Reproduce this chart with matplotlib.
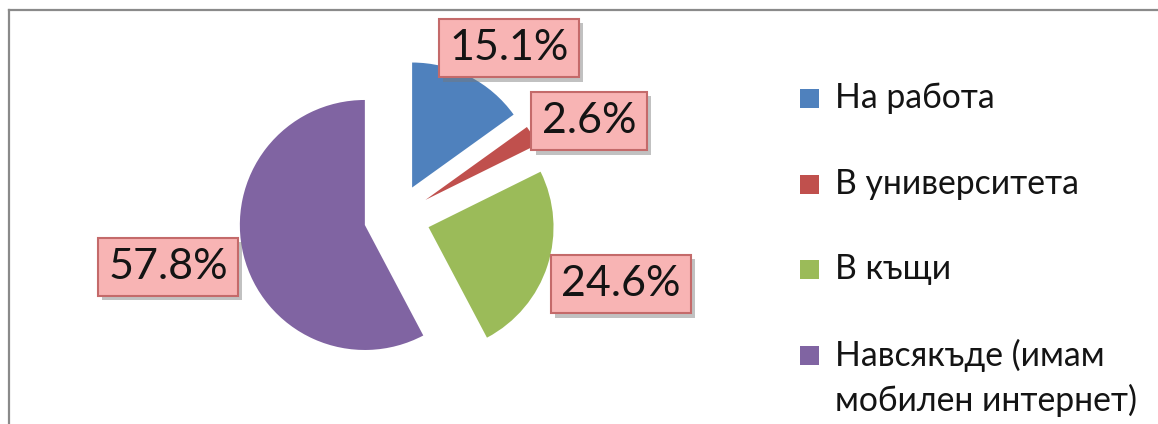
import matplotlib
matplotlib.use("Agg")
import matplotlib.pyplot as plt
from matplotlib.patches import Rectangle
from matplotlib.lines import Line2D
import matplotlib.patheffects as pe

categories = ["На работа", "В университета", "В къщи", "Навсякъде (имам\nмобилен интернет)"]
values = [15.1, 2.6, 24.6, 57.8]
value_labels = ["15.1%", "2.6%", "24.6%", "57.8%"]
colors = ["#4F81BD", "#C0504D", "#9BBB59", "#8064A2"]

W, H = 1158, 424
fig = plt.figure(figsize=(W / 100, H / 100), dpi=100)
ax = fig.add_axes([0, 0, 1, 1])

R = 125.0              # pixel radius
CX, CY = 397.0, 217.0  # pixel centre (y from top)

def px(x, y):
    return ((x - CX) / R, (CY - y) / R)

FONT = ["Lato", "DejaVu Sans"]

wedges, _ = ax.pie(values, colors=colors, startangle=90, counterclock=False,
                   explode=[0.265] * 4, radius=1.0,
                   wedgeprops=dict(linewidth=0))
ax.set_xlim(-CX / R, (W - CX) / R)
ax.set_ylim(-(H - CY) / R, CY / R)
ax.set_aspect("auto")
ax.axis("off")

# data label boxes (pixel centres)
label_pos = [(509, 48), (589, 121), (621, 284), (168, 267)]
for txt, (lx, ly) in zip(value_labels, label_pos):
    x, y = px(lx, ly)
    t = ax.text(x, y, txt, ha="center", va="center", fontsize=31, family=FONT,
                color="#141414",
                bbox=dict(boxstyle="square,pad=0.24", fc="#F8B4B4", ec="#C46A6A", lw=1.5))
    t.get_bbox_patch().set_path_effects(
        [pe.SimplePatchShadow(offset=(3, -3), shadow_rgbFace="#777777", alpha=0.45),
         pe.Normal()])

# legend
leg_rows = [98, 184, 269, 355]
line_gap = 45
for cat, col, ry in zip(categories, colors, leg_rows):
    fig.add_artist(Rectangle((800 / W, 1 - (ry + 9.5) / H), 19 / W, 19 / H,
                             transform=fig.transFigure, fc=col, ec="none"))
    for i, line in enumerate(cat.split("\n")):
        fig.text(835 / W, 1 - (ry + i * line_gap) / H, line, ha="left", va="center",
                 fontsize=24.3, family=FONT, color="#141414")

# chart border (top and left)
fig.add_artist(Line2D([9 / W, 1], [1 - 10 / H, 1 - 10 / H], transform=fig.transFigure,
                      color="#8a8a8a", lw=1.6))
fig.add_artist(Line2D([9 / W, 9 / W], [0, 1 - 10 / H], transform=fig.transFigure,
                      color="#8a8a8a", lw=1.6))

fig.savefig("out.png", dpi=100, facecolor="white")
